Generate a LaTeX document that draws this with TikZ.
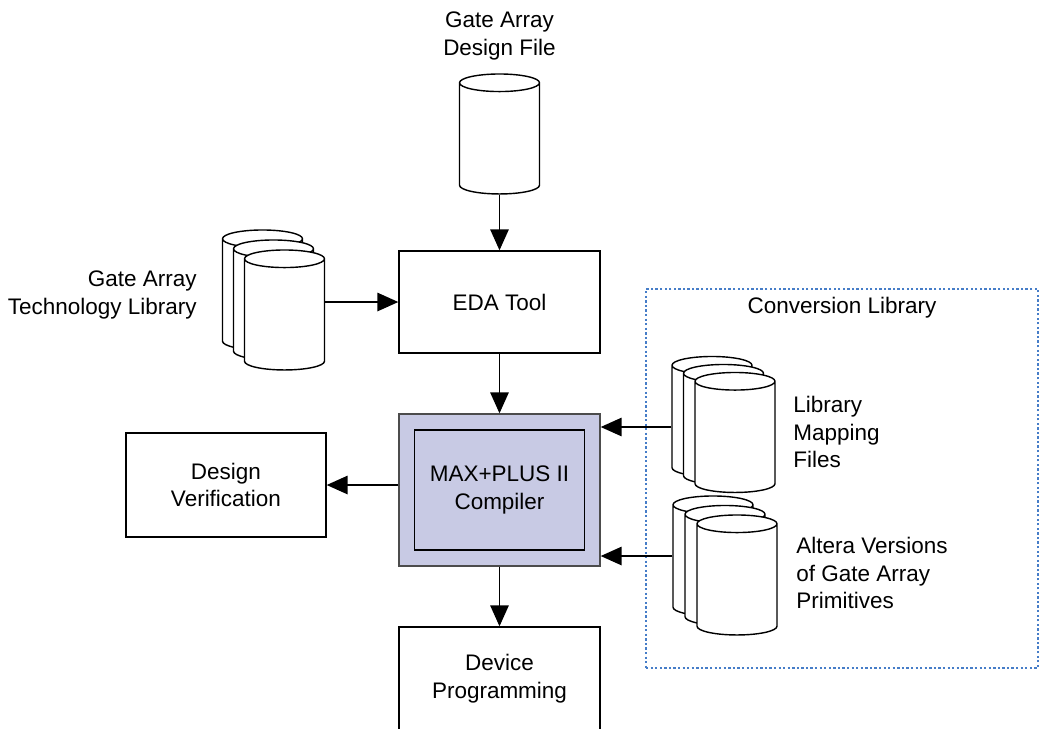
\documentclass[tikz,border=0pt]{standalone}
\usepackage{fontspec}
\setmainfont{Liberation Sans}
\usetikzlibrary{positioning,arrows.meta,shapes.geometric}
\definecolor{compfill}{RGB}{200,202,228}
\definecolor{convblue}{RGB}{70,125,200}

\begin{document}
\begin{tikzpicture}[x=0.02cm,y=-0.02cm,
    every node/.style={font=\fontsize{12.8pt}{15.8pt}\selectfont},
    box/.style={draw,line width=0.8pt,align=center,minimum width=4.02cm,minimum height=2.04cm},
    db/.style={cylinder,shape border rotate=90,aspect=1.5,draw,fill=white,line width=0.8pt,minimum width=1.6cm,minimum height=2.4cm},
    arr/.style={-{Triangle[length=0.42cm,width=0.37cm]},line width=0.8pt},
    txt/.style={inner sep=0pt}]
    \useasboundingbox (0,0) rectangle (1045,728);
    % Conversion library frame
    \node[draw=convblue,line width=0.9pt,dash pattern=on 1.3pt off 1.3pt,minimum width=7.84cm,minimum height=7.58cm] (conv) at (842,478.5) {};
    \node (convtitle) at ([yshift=-0.38cm]conv.north) {Conversion Library};
    % Main flow
    \node[db] (gafile) at (499.5,141) {};
    \node[above=0.14cm of gafile,align=center] (gafiletxt) {Gate Array\\Design File};
    \node[box] (eda) at (499.5,302) {EDA Tool};
    \node[box,fill=compfill,draw=black!70,minimum height=3.04cm] (comp) at (499.5,490) {};
    \node[box,minimum width=3.4cm,minimum height=2.4cm] (compin) at (comp) {MAX+PLUS II\\Compiler};
    \node[box,minimum width=4cm,minimum height=2.08cm] (dv) at (226,485) {Design\\Verification};
    \node[box,minimum height=2.08cm] (dev) at (499.5,679) {Device\\Programming};
    % Stacked libraries
    \foreach \n/\x/\y in {back/262.5/297,mid/273.5/307,front/284.5/317}
        \node[db] (lib\n) at (\x,\y) {};
    \foreach \n/\x/\y in {back/712/423.5,mid/723.5/431.5,front/735/439.5}
        \node[db] (map\n) at (\x,\y) {};
    \foreach \n/\x/\y in {back/713/563,mid/725/572.5,front/737/582}
        \node[db] (alt\n) at (\x,\y) {};
    % Labels
    \node[txt,anchor=east,align=right] (libtxt) at (197,295) {Gate Array\\Technology Library};
    \node[txt,anchor=west,align=left] (maptxt) at (793,432) {Library\\Mapping\\Files};
    \node[txt,anchor=west,align=left] (alttxt) at (796,573) {Altera Versions\\of Gate Array\\Primitives};
    % Arrows
    \draw[arr] (gafile.south) -- (eda.north);
    \draw[arr] (libfront.east |- eda) -- (eda.west);
    \draw[arr] (eda) -- (comp);
    \draw[arr] (comp.west |- dv) -- (dv.east);
    \draw[arr] (comp) -- (dev);
    \draw[arr] ([yshift=-0.07cm]mapback.west) -- ([yshift=-0.07cm]mapback.west -| comp.east);
    \draw[arr] ([yshift=0.14cm]altback.west) -- ([yshift=0.14cm]altback.west -| comp.east);
\end{tikzpicture}
\end{document}
